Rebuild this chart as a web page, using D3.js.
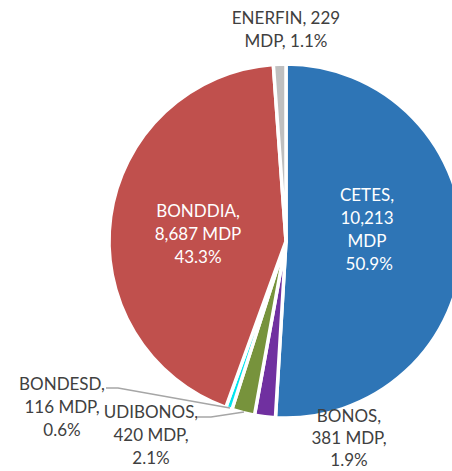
<!DOCTYPE html>
<html><head><meta charset="utf-8">
<script src="https://cdn.jsdelivr.net/npm/d3@7"></script>
<style>html,body{margin:0;padding:0;background:#fff;overflow:hidden}</style>
</head><body>
<svg id="chart" width="452" height="471"></svg>
<script>
const categories = ["CETES", "BONOS", "UDIBONOS", "BONDESD", "BONDDIA", "ENERFIN"];
const values = [10213, 381, 420, 116, 8687, 229];
const colors = ["#2E75B6", "#7030A0", "#77933C", "#00E5EE", "#C0504D", "#BFBFBF"];

const W = 452, H = 471;
const cx = 286, cy = 241, R = 177;
const fontFam = "Lato, 'Open Sans', sans-serif";
const fs = 17, lh = 23;

const svg = d3.select("#chart");
const total = d3.sum(values);
const pct = d3.format(".1%");
const num = d3.format(",");

const pie = d3.pie().sort(null).value(d => d)(values);
const arc = d3.arc().innerRadius(0).outerRadius(R);

const g = svg.append("g").attr("transform", `translate(${cx},${cy})`);
g.selectAll("path").data(pie).join("path")
  .attr("d", arc)
  .attr("fill", (d, i) => colors[i])
  .attr("stroke", "#fff")
  .attr("stroke-width", 3.5)
  .attr("stroke-linejoin", "miter");

// label text lines (built from data)
function lines(i) {
  const c = categories[i], v = num(values[i]), p = pct(values[i] / total);
  switch (c) {
    case "CETES": return [c + ",", v, "MDP", "\u00a0" + p];
    case "BONDDIA": return [c + ",", v + " MDP", p];
    case "ENERFIN": return [c + ", " + v, "MDP, " + p];
    default: return [c + ",", v + " MDP,", p];
  }
}
// label layout (x center, first baseline y, color, line height)
const labelPos = {
  CETES: [367, 201, "#fff", 23],
  BONOS: [349, 422, "#404040", 22],
  UDIBONOS: [151, 418, "#404040", 23],
  BONDESD: [62, 390, "#404040", 23],
  BONDDIA: [198, 217, "#fff", 23],
  ENERFIN: [286, 24, "#404040", 23]
};
categories.forEach((c, i) => {
  const [x, y, col, lhh] = labelPos[c];
  const t = svg.append("text")
    .attr("x", x).attr("y", y)
    .attr("text-anchor", "middle")
    .attr("font-family", fontFam)
    .attr("font-size", fs)
    .attr("fill", col);
  lines(i).forEach((s, k) => {
    t.append("tspan").attr("x", x).attr("y", y + k * lhh).text(s);
  });
});

// leader lines
const leaderCol = "#A6A6A6";
const leaders = [
  [[106, 388], [118, 388], [230, 408]],
  [[197, 417], [211, 417], [244, 412]]
];
leaders.forEach(pts => {
  svg.append("path")
    .attr("d", d3.line()(pts))
    .attr("fill", "none")
    .attr("stroke", leaderCol)
    .attr("stroke-width", 1.3);
});
</script>
</body></html>
